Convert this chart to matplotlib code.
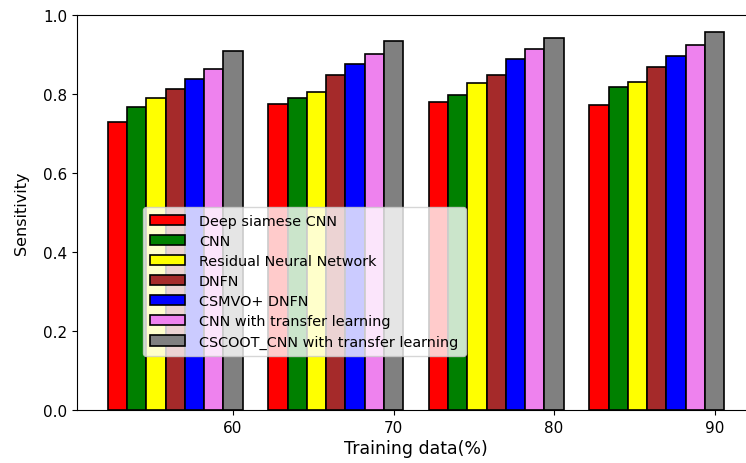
import matplotlib
matplotlib.use("Agg")
import matplotlib.pyplot as plt
import numpy as np

training = [60, 70, 80, 90]
methods = ["Deep siamese CNN", "CNN", "Residual Neural Network", "DNFN",
           "CSMVO+ DNFN", "CNN with transfer learning",
           "CSCOOT_CNN with transfer learning"]
colors = ["red", "green", "yellow", "brown", "blue", "violet", "gray"]
values = [
    [0.730, 0.775, 0.779, 0.772],
    [0.768, 0.789, 0.797, 0.817],
    [0.791, 0.806, 0.829, 0.830],
    [0.813, 0.848, 0.848, 0.868],
    [0.837, 0.877, 0.889, 0.895],
    [0.864, 0.902, 0.913, 0.924],
    [0.909, 0.933, 0.942, 0.958],
]

fig = plt.figure(figsize=(7.46, 4.64), dpi=100)
ax = fig.add_axes([77/746, 53/464, 678/746, 395/464])

x = np.array(training, dtype=float)
w = 1.2
n = len(methods)
for i, (m, c, v) in enumerate(zip(methods, colors, values)):
    ax.bar(x - (n - 1 - i) * w, v, width=w, color=c, edgecolor="black",
           linewidth=1.2, label=m)

ax.set_xticks(training)
ax.set_ylim(0, 1.0)
ax.tick_params(labelsize=11)
ax.set_xlabel("Training data(%)", fontsize=12.5, labelpad=3)
ax.set_ylabel("Sensitivity", fontsize=11.5, labelpad=10)
ax.legend(loc="lower left", bbox_to_anchor=(0.097, 0.137), fontsize=10.4,
          labelspacing=0.42, handlelength=2.4, handletextpad=1.0,
          borderpad=0.5, borderaxespad=0)

fig.savefig("out.png", dpi=100)
